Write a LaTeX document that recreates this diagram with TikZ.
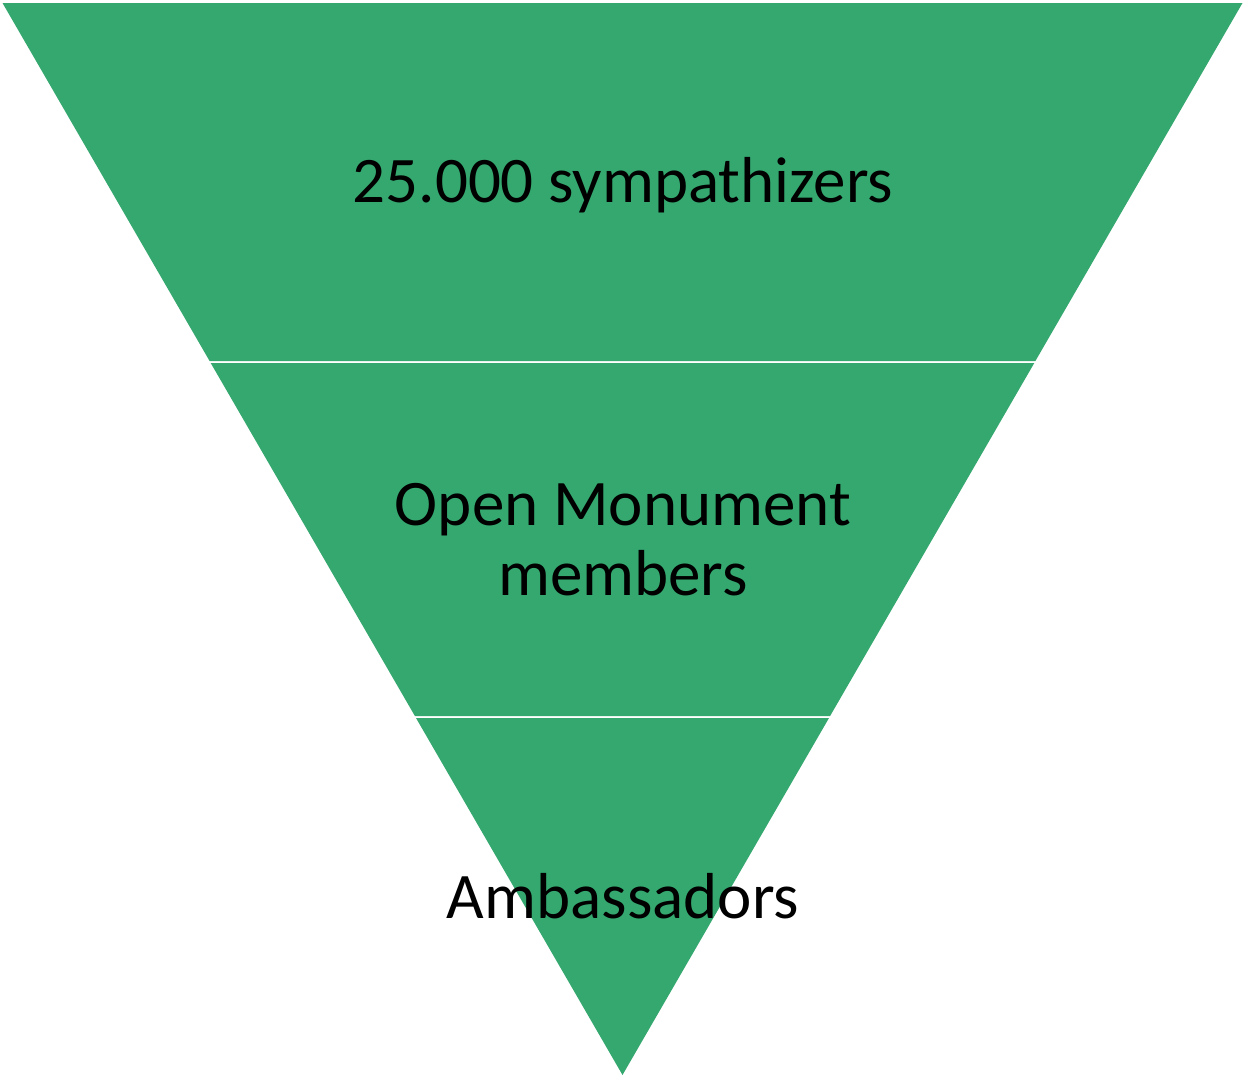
\documentclass[tikz,border=0pt]{standalone}
\usepackage{fontspec}
\setmainfont{Carlito}
\usepackage{tikz}
\tikzstyle{funnel} = [x = 1pt, y = -1pt]
\definecolor{bandColor}{RGB}{52,168,111}
\tikzstyle{bandStyle} = [fill=bandColor, draw=none]
\tikzstyle{bandText} = [font=\fontsize{65}{70}\selectfont, text=black, inner sep=0pt, anchor=base, align=center]
\begin{document}
\begin{tikzpicture}[funnel]
    \useasboundingbox (0,0) rectangle (1243,1076);
    % bands, top to bottom
    \filldraw [bandStyle] (2.5,3) -- (1242.5,3) -- (1035.4,361) -- (209.6,361) -- cycle;
    \filldraw [bandStyle] (210.7,363) -- (1034.3,363) -- (830.1,716) -- (414.9,716) -- cycle;
    \filldraw [bandStyle] (416,718) -- (829,718) -- (622.5,1075) -- cycle;
    % labels
    \node [bandText] (sympathizers) at (623,202) {25.000 sympathizers};
    \node [bandText] (members) at (623,595) {Open Monument\\members};
    \node [bandText] (ambassadors) at (623,918) {Ambassadors};
\end{tikzpicture}
\end{document}
